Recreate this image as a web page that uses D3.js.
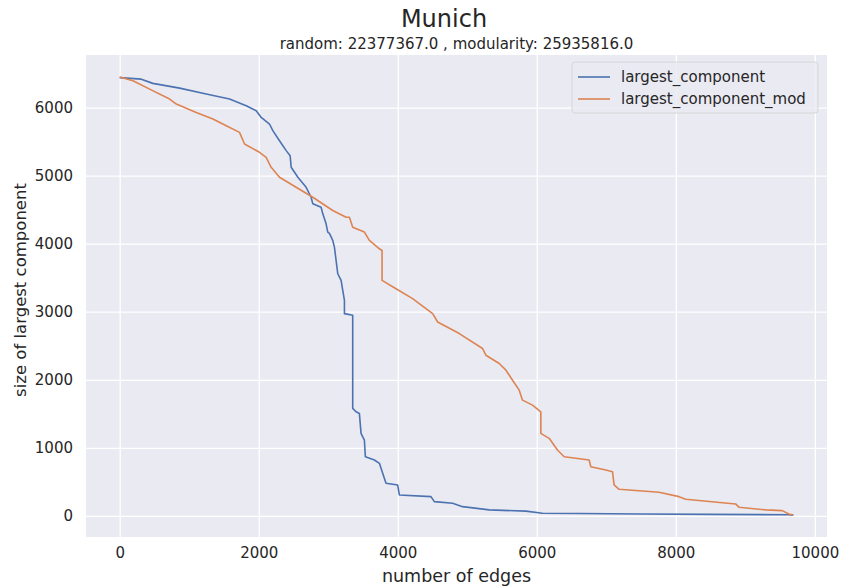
<!DOCTYPE html>
<html>
<head>
<meta charset="utf-8">
<script src="https://cdn.jsdelivr.net/npm/d3@7"></script>
<style>
  body { margin: 0; background: #fff; }
  svg text { font-family: "DejaVu Sans", sans-serif; fill: #262626; }
</style>
</head>
<body>
<div id="chart"></div>
<script>
// values: [number of edges, size of largest component]
var largestComponent = [
  [0, 6440], [311, 6417], [477, 6355], [862, 6285], [1245, 6198], [1580, 6125],
  [1820, 6026], [1964, 5953], [2036, 5855], [2155, 5758], [2203, 5660], [2299, 5513],
  [2395, 5367], [2452, 5293], [2467, 5122], [2563, 4975], [2682, 4828], [2754, 4682],
  [2778, 4585], [2897, 4535], [2922, 4438], [2969, 4292], [2993, 4170], [3017, 4150],
  [3065, 4047], [3089, 3949], [3113, 3754], [3137, 3558], [3185, 3460], [3209, 3314],
  [3233, 3167], [3233, 2972], [3352, 2947], [3352, 1579], [3400, 1530], [3448, 1506],
  [3472, 1212], [3520, 1114], [3534, 870], [3664, 821], [3736, 773], [3783, 626],
  [3831, 479], [3998, 455], [4023, 308], [4478, 283], [4526, 210], [4789, 186],
  [4932, 136], [5316, 88], [5843, 70], [6082, 40], [6609, 35], [7500, 28],
  [8500, 22], [9626, 18], [9690, 12]
];
var largestComponentMod = [
  [0, 6450], [191, 6393], [431, 6271], [718, 6125], [815, 6051], [1101, 5928],
  [1341, 5831], [1533, 5733], [1724, 5635], [1796, 5464], [2011, 5342], [2107, 5268],
  [2179, 5122], [2299, 4975], [2538, 4828], [2778, 4682], [3065, 4487], [3257, 4389],
  [3305, 4389], [3352, 4242], [3520, 4170], [3592, 4047], [3736, 3925], [3774, 3900],
  [3774, 3460], [3975, 3338], [4214, 3192], [4502, 2972], [4574, 2849], [4885, 2679],
  [5220, 2459], [5268, 2361], [5460, 2239], [5556, 2141], [5651, 1994], [5747, 1848],
  [5795, 1701], [5938, 1628], [6058, 1530], [6058, 1212], [6178, 1140], [6297, 968],
  [6394, 870], [6562, 846], [6753, 821], [6777, 723], [6993, 674], [7089, 650],
  [7112, 455], [7184, 391], [7759, 347], [8046, 283], [8142, 245], [8860, 176],
  [8908, 128], [9291, 88], [9530, 78], [9626, 29], [9690, 12]
];
var seriesNames = ["largest_component", "largest_component_mod"];
var seriesColors = ["#4C72B0", "#DD8452"];
var xTicks = [0, 2000, 4000, 6000, 8000, 10000];
var yTicks = [0, 1000, 2000, 3000, 4000, 5000, 6000];

var w = 842, h = 587;
var margin = {top: 55, right: 15, bottom: 50, left: 86};

var svg = d3.select("#chart").append("svg")
    .attr("width", w)
    .attr("height", h);

// matplotlib style 5% padding around the data
var allPts = largestComponent.concat(largestComponentMod);
var xExt = d3.extent(allPts, d => d[0]);
var yExt = d3.extent(allPts, d => d[1]);
var xPad = (xExt[1] - xExt[0]) * 0.05;
var yPad = (yExt[1] - yExt[0]) * 0.05;

var x = d3.scaleLinear()
    .domain([xExt[0] - xPad, xExt[1] + xPad])
    .range([margin.left, w - margin.right]);
var y = d3.scaleLinear()
    .domain([yExt[0] - yPad, yExt[1] + yPad])
    .range([h - margin.bottom, margin.top]);

//plot background
svg.append("rect")
    .attr("x", margin.left)
    .attr("y", margin.top)
    .attr("width", w - margin.left - margin.right)
    .attr("height", h - margin.top - margin.bottom)
    .attr("fill", "#EAEAF2");

//grid + ticks via axes
var xAxis = svg.append("g")
    .attr("transform", `translate(0,${h - margin.bottom})`)
    .call(d3.axisBottom(x).tickValues(xTicks).tickFormat(d3.format("d"))
        .tickSize(-(h - margin.top - margin.bottom)).tickPadding(10));
var yAxis = svg.append("g")
    .attr("transform", `translate(${margin.left},0)`)
    .call(d3.axisLeft(y).tickValues(yTicks).tickFormat(d3.format("d"))
        .tickSize(-(w - margin.left - margin.right)).tickPadding(13));

[xAxis, yAxis].forEach(function(a){
    a.select(".domain").remove();
    a.selectAll(".tick line").attr("stroke", "#fff").attr("stroke-width", 1.3);
    a.selectAll(".tick text").attr("font-size", 15).attr("fill", "#262626")
        .attr("font-family", "DejaVu Sans, sans-serif");
});

//lines
var line = d3.line()
    .x(d => x(d[0]))
    .y(d => y(d[1]));

[largestComponent, largestComponentMod].forEach(function(s, i){
    svg.append("path")
        .datum(s)
        .attr("d", line)
        .attr("fill", "none")
        .attr("stroke", seriesColors[i])
        .attr("stroke-width", 1.6)
        .attr("stroke-linejoin", "round");
});

//legend
var legend = svg.append("g").attr("transform", "translate(572,62)");
legend.append("rect")
    .attr("width", 246)
    .attr("height", 51)
    .attr("rx", 3)
    .attr("fill", "#EAEAF2")
    .attr("fill-opacity", 0.8)
    .attr("stroke", "#d0d0d0")
    .attr("stroke-width", 0.8);
seriesNames.forEach(function(n, i){
    var g = legend.append("g").attr("transform", `translate(0,${15 + i * 22})`);
    g.append("line")
        .attr("x1", 6).attr("x2", 38)
        .attr("stroke", seriesColors[i])
        .attr("stroke-width", 1.6);
    g.append("text")
        .attr("x", 49)
        .attr("dy", "0.35em")
        .attr("font-size", 15)
        .text(n);
});

//titles and axis labels
svg.append("text")
    .attr("x", 444)
    .attr("y", 27)
    .attr("text-anchor", "middle")
    .attr("font-size", 24)
    .text("Munich");
svg.append("text")
    .attr("x", (margin.left + w - margin.right) / 2)
    .attr("y", 49)
    .attr("text-anchor", "middle")
    .attr("font-size", 15)
    .text("random: 22377367.0 , modularity: 25935816.0");
svg.append("text")
    .attr("x", (margin.left + w - margin.right) / 2)
    .attr("y", 582)
    .attr("text-anchor", "middle")
    .attr("font-size", 17.5)
    .text("number of edges");
svg.append("text")
    .attr("transform", "translate(26,290) rotate(-90)")
    .attr("text-anchor", "middle")
    .attr("font-size", 16.5)
    .text("size of largest component");
</script>
</body>
</html>
